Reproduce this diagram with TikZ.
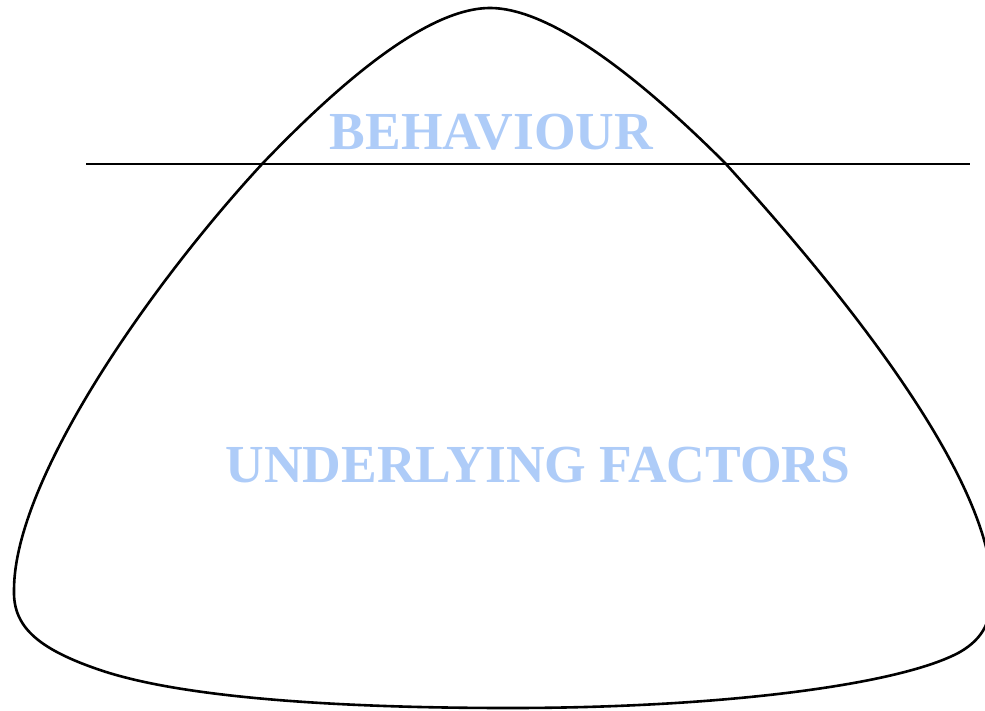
\documentclass[tikz,border=0pt]{standalone}
\usepackage{fontspec}
\setmainfont{Liberation Serif}
\usepackage{xcolor}
\definecolor{azulclaro}{RGB}{174,204,248}

\begin{document}
\begin{tikzpicture}[x=1pt, y=-1pt]
        \tikzstyle{contorno}=[draw=black, line width=2.6pt]
        \tikzstyle{rotulo}=[text=azulclaro, inner sep=0pt, anchor=base, font=\bfseries\fontsize{53.5}{54}\selectfont]

        \clip (0,0) rectangle (985,710);

        \coordinate (A) at (86,164);
        \coordinate (B) at (970,164);

        \coordinate (topo) at (490,8);
        \coordinate (E) at (263,163);
        \coordinate (esq) at (14,590);
        \coordinate (cantoesq) at (100,670);
        \coordinate (fundo) at (510,708);
        \coordinate (cantodir) at (960,652);
        \coordinate (dir) at (992,590);
        \coordinate (D) at (725,163);

        % iceberg
        \draw[contorno] (topo) .. controls (425,8) and (335,88) .. (E)
          .. controls (150,285) and (14,480) .. (esq)
          .. controls (13,625) and (35,648) .. (cantoesq)
          .. controls (200,704) and (400,708) .. (fundo)
          .. controls (720,708) and (900,685) .. (cantodir)
          .. controls (984,638) and (992,620) .. (dir)
          .. controls (992,480) and (850,300) .. (D)
          .. controls (650,88) and (555,8) .. (topo) -- cycle;

        % linha da agua
        \draw[contorno] (A) -- (B);

        \node[rotulo] (comportamento) at (491.5,149) {BEHAVIOUR};
        \node[rotulo] (fatores) at (538,482) {UNDERLYING FACTORS};
      \end{tikzpicture}
\end{document}
